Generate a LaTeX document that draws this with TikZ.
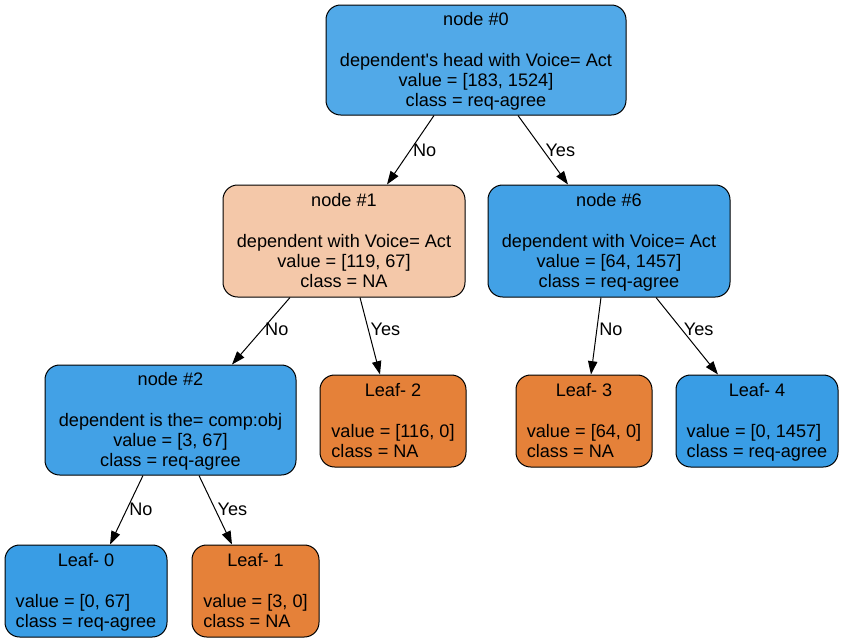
\documentclass[tikz,border=0pt]{standalone}
\usepackage{fontspec}
\setmainfont{Liberation Sans}
\usetikzlibrary{arrows.meta, positioning, calc}

% node colours
\definecolor{rootblue}{RGB}{81,169,232}
\definecolor{splitblue}{RGB}{66,161,230}
\definecolor{splitorange}{RGB}{244,200,169}
\definecolor{leafblue}{RGB}{57,157,229}
\definecolor{leaforange}{RGB}{229,129,57}

% taller first row, pushes the text a bit down
\def\tp{\rule{0pt}{13.6pt}}

\begin{document}
\begin{tikzpicture}[x=0.75pt,y=-0.75pt,
  box/.style={draw, line width=0.75pt, rounded corners=11pt, inner sep=0pt,
    font=\fontsize{13.6}{15.2}\selectfont},
  edge/.style={-{Triangle[length=10pt,width=7pt]}, line width=0.75pt},
  lab/.style={anchor=west, inner sep=1.5pt, font=\fontsize{13.6}{15.2}\selectfont}]

\def\px{0.75pt}
\useasboundingbox (0,0) rectangle (844,643);

% split nodes
\node[box, fill=rootblue, minimum width=300*\px, minimum height=110*\px] (n0) at (476,60)
  {\begin{tabular}{@{}c@{}}\tp node \#0\\ \\ dependent\textquotesingle s head with Voice= Act\\ value = [183, 1524]\\ class = req-agree\end{tabular}};
\node[box, fill=splitorange, minimum width=242*\px, minimum height=112*\px] (n1) at (344,241)
  {\begin{tabular}{@{}c@{}}\tp node \#1\\ \\ dependent with Voice= Act\\ value = [119, 67]\\ class = NA\end{tabular}};
\node[box, fill=splitblue, minimum width=242*\px, minimum height=112*\px] (n6) at (609,241)
  {\begin{tabular}{@{}c@{}}\tp node \#6\\ \\ dependent with Voice= Act\\ value = [64, 1457]\\ class = req-agree\end{tabular}};
\node[box, fill=splitblue, minimum width=251*\px, minimum height=110*\px] (n2) at (170.5,420)
  {\begin{tabular}{@{}c@{}}\tp node \#2\\ \\ dependent is the= comp:obj\\ value = [3, 67]\\ class = req-agree\end{tabular}};

% leaves
\node[box, fill=leaforange, minimum width=146*\px, minimum height=92*\px] (leaf2) at (393,421)
  {\begin{tabular}{@{}l@{}}\multicolumn{1}{@{}c@{}}{\tp Leaf- 2}\\ \\ value = [116, 0]\\ class = NA\end{tabular}};
\node[box, fill=leaforange, minimum width=136*\px, minimum height=92*\px] (leaf3) at (584,421)
  {\begin{tabular}{@{}l@{}}\multicolumn{1}{@{}c@{}}{\tp Leaf- 3}\\ \\ value = [64, 0]\\ class = NA\end{tabular}};
\node[box, fill=leafblue, minimum width=162*\px, minimum height=92*\px] (leaf4) at (757,421)
  {\begin{tabular}{@{}l@{}}\multicolumn{1}{@{}c@{}}{\tp Leaf- 4}\\ \\ value = [0, 1457]\\ class = req-agree\end{tabular}};
\node[box, fill=leafblue, minimum width=162*\px, minimum height=92*\px] (leaf0) at (86,591)
  {\begin{tabular}{@{}l@{}}\multicolumn{1}{@{}c@{}}{\tp Leaf- 0}\\ \\ value = [0, 67]\\ class = req-agree\end{tabular}};
\node[box, fill=leaforange, minimum width=127*\px, minimum height=92*\px] (leaf1) at (255.5,591)
  {\begin{tabular}{@{}l@{}}\multicolumn{1}{@{}c@{}}{\tp Leaf- 1}\\ \\ value = [3, 0]\\ class = NA\end{tabular}};

% edges
\foreach \a/\sa/\b/\sb/\t/\p in {n0/-42/n1/43/No/0.5, n0/42/n6/-41/Yes/0.5,
    n1/-54/n2/61.5/No/0.47, n1/16/leaf2/-13/Yes/0.41,
    n6/-8/leaf3/7/No/0.41, n6/47/leaf4/-39/Yes/0.41,
    n2/-27.5/leaf0/24/No/0.49, n2/28.5/leaf1/-23.5/Yes/0.49}
  \draw[edge] ($(\a.south)+(\sa,0)$) -- node[lab, pos=\p] {\t} ($(\b.north)+(\sb,0)$);

\end{tikzpicture}
\end{document}
